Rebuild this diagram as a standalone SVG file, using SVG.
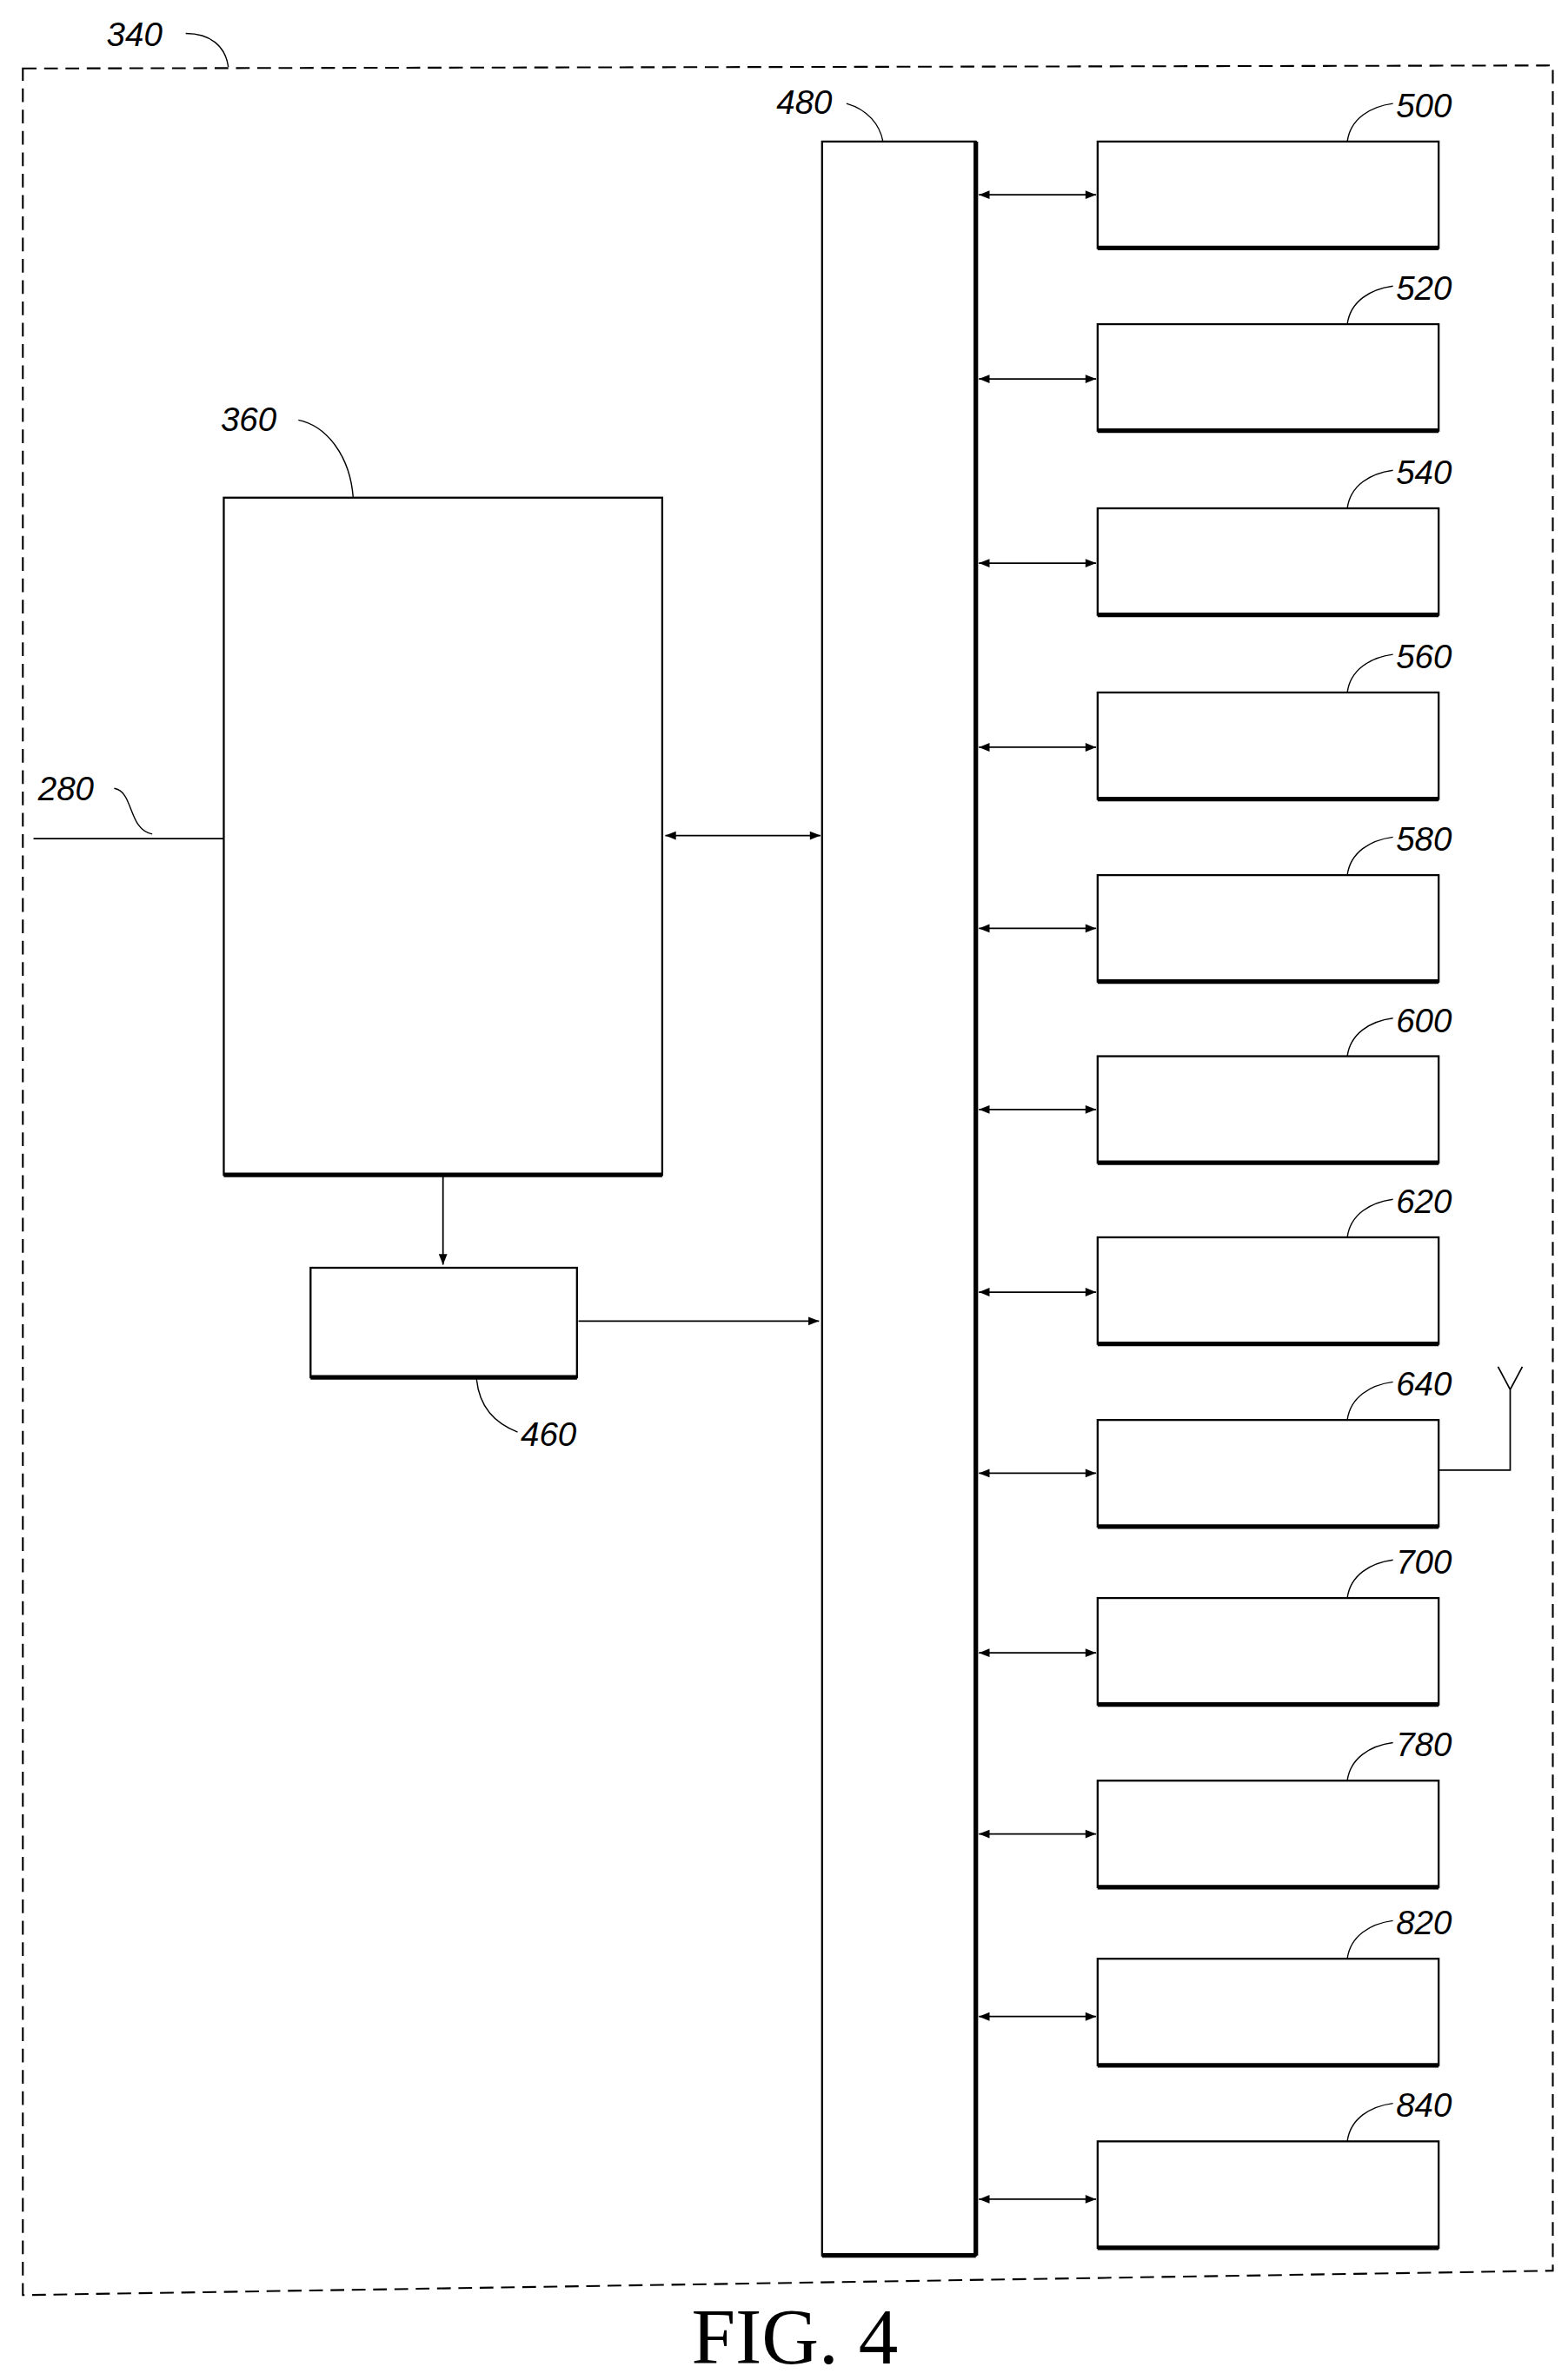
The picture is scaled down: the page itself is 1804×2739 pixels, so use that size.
<svg xmlns="http://www.w3.org/2000/svg" width="1804" height="2739" viewBox="0 0 1804 2739">
<style>
.b{fill:#fff;stroke:#000;stroke-width:1.3}
.l{fill:none;stroke:#000;stroke-width:1}
.t{font-family:"Liberation Sans",sans-serif;font-style:italic;font-size:22px;fill:#000}
.c{fill:none;stroke:#000;stroke-width:0.8}
</style>
<defs>
<marker id="a" viewBox="0 0 10 10" refX="10" refY="5" markerWidth="11" markerHeight="7" orient="auto-start-reverse" markerUnits="userSpaceOnUse"><path d="M0,1L10,5L0,9z" fill="#000"/></marker>
</defs>
<rect width="1804" height="2739" fill="#fff"/>
<g transform="scale(1.7515)">
<g id="n340"><path d="M15,45L1020,43L1020,1492L15,1508Z" fill="none" stroke="#000" stroke-width="1.2" stroke-dasharray="9,5"/>
<text class="t" x="70" y="30">340</text><path class="c" d="M122,22C138,22 148,30 150,44"/></g>
<g id="n480"><rect class="b" x="540" y="93" width="101" height="1389"/><path d="M641,93V1482M540,1482H641" stroke="#000" stroke-width="3"/>
<text class="t" x="510" y="75">480</text><path class="c" d="M556,68C570,72 578,82 580,93"/></g>
<g id="n360"><rect class="b" x="147" y="327" width="288" height="445"/><path d="M147,772H435" stroke="#000" stroke-width="3"/>
<text class="t" x="145" y="283">360</text><path class="c" d="M196,276C215,280 230,300 232,327"/></g>
<g id="n280"><text class="t" x="25" y="526">280</text><path class="c" d="M75,518C88,520 84,545 100,548"/></g>
<g id="n460"><rect class="b" x="204" y="833" width="175" height="72"/><path d="M204,905H379" stroke="#000" stroke-width="3"/>
<text class="t" x="342" y="950">460</text><path class="c" d="M313,906C315,925 325,935 340,941"/></g>
<g id="right">
<g id="n500"><rect class="b" x="721" y="93" width="224" height="70"/><path d="M721,163H945" stroke="#000" stroke-width="3"/><text class="t" x="917" y="77">500</text><path class="c" d="M885,93C887,78 900,70 915,68"/></g>
<g id="n520"><rect class="b" x="721" y="213" width="224" height="70"/><path d="M721,283H945" stroke="#000" stroke-width="3"/><text class="t" x="917" y="197">520</text><path class="c" d="M885,213C887,198 900,190 915,188"/></g>
<g id="n540"><rect class="b" x="721" y="334" width="224" height="70"/><path d="M721,404H945" stroke="#000" stroke-width="3"/><text class="t" x="917" y="318">540</text><path class="c" d="M885,334C887,319 900,311 915,309"/></g>
<g id="n560"><rect class="b" x="721" y="455" width="224" height="70"/><path d="M721,525H945" stroke="#000" stroke-width="3"/><text class="t" x="917" y="439">560</text><path class="c" d="M885,455C887,440 900,432 915,430"/></g>
<g id="n580"><rect class="b" x="721" y="575" width="224" height="70"/><path d="M721,645H945" stroke="#000" stroke-width="3"/><text class="t" x="917" y="559">580</text><path class="c" d="M885,575C887,560 900,552 915,550"/></g>
<g id="n600"><rect class="b" x="721" y="694" width="224" height="70"/><path d="M721,764H945" stroke="#000" stroke-width="3"/><text class="t" x="917" y="678">600</text><path class="c" d="M885,694C887,679 900,671 915,669"/></g>
<g id="n620"><rect class="b" x="721" y="813" width="224" height="70"/><path d="M721,883H945" stroke="#000" stroke-width="3"/><text class="t" x="917" y="797">620</text><path class="c" d="M885,813C887,798 900,790 915,788"/></g>
<g id="n640"><rect class="b" x="721" y="933" width="224" height="70"/><path d="M721,1003H945" stroke="#000" stroke-width="3"/><text class="t" x="917" y="917">640</text><path class="c" d="M885,933C887,918 900,910 915,908"/>
<path class="l" d="M945,966H992V913M984,898L992,913L1000,898"/></g>
<g id="n700"><rect class="b" x="721" y="1050" width="224" height="70"/><path d="M721,1120H945" stroke="#000" stroke-width="3"/><text class="t" x="917" y="1034">700</text><path class="c" d="M885,1050C887,1035 900,1027 915,1025"/></g>
<g id="n780"><rect class="b" x="721" y="1170" width="224" height="70"/><path d="M721,1240H945" stroke="#000" stroke-width="3"/><text class="t" x="917" y="1154">780</text><path class="c" d="M885,1170C887,1155 900,1147 915,1145"/></g>
<g id="n820"><rect class="b" x="721" y="1287" width="224" height="70"/><path d="M721,1357H945" stroke="#000" stroke-width="3"/><text class="t" x="917" y="1271">820</text><path class="c" d="M885,1287C887,1272 900,1264 915,1262"/></g>
<g id="n840"><rect class="b" x="721" y="1407" width="224" height="70"/><path d="M721,1477H945" stroke="#000" stroke-width="3"/><text class="t" x="917" y="1391">840</text><path class="c" d="M885,1407C887,1392 900,1384 915,1382"/></g>
</g>
<g id="connectors" stroke="#000" stroke-width="1" fill="none">
<path d="M22,551H147"/>
<path d="M437,549H539" marker-start="url(#a)" marker-end="url(#a)"/>
<path d="M291,773V831" marker-end="url(#a)"/>
<path d="M380,868H538" marker-end="url(#a)"/>
<path d="M643,128H720" marker-start="url(#a)" marker-end="url(#a)"/>
<path d="M643,249H720" marker-start="url(#a)" marker-end="url(#a)"/>
<path d="M643,370H720" marker-start="url(#a)" marker-end="url(#a)"/>
<path d="M643,491H720" marker-start="url(#a)" marker-end="url(#a)"/>
<path d="M643,610H720" marker-start="url(#a)" marker-end="url(#a)"/>
<path d="M643,729H720" marker-start="url(#a)" marker-end="url(#a)"/>
<path d="M643,849H720" marker-start="url(#a)" marker-end="url(#a)"/>
<path d="M643,968H720" marker-start="url(#a)" marker-end="url(#a)"/>
<path d="M643,1086H720" marker-start="url(#a)" marker-end="url(#a)"/>
<path d="M643,1205H720" marker-start="url(#a)" marker-end="url(#a)"/>
<path d="M643,1325H720" marker-start="url(#a)" marker-end="url(#a)"/>
<path d="M643,1445H720" marker-start="url(#a)" marker-end="url(#a)"/>
</g>
<text x="522" y="1553" text-anchor="middle" font-family="Liberation Serif,serif" font-size="52" fill="#000">FIG. 4</text>
</g>
</svg>
